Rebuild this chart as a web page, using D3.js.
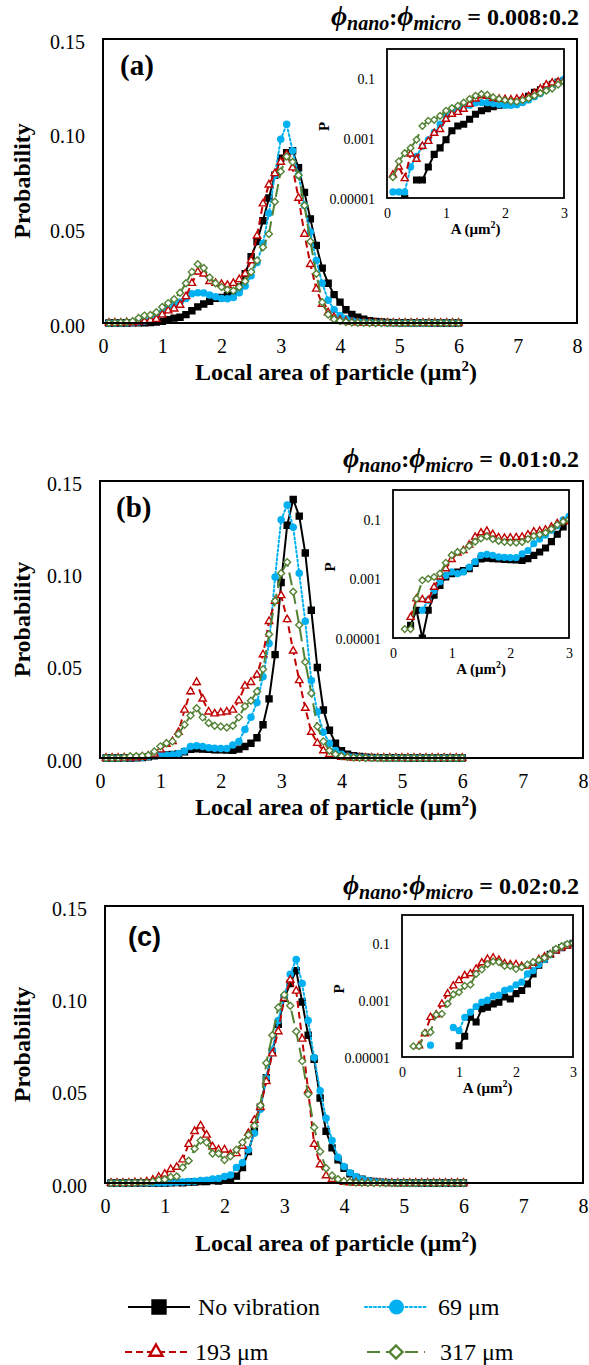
<!DOCTYPE html>
<html>
<head>
<meta charset="utf-8">
<script src="https://cdn.jsdelivr.net/npm/d3@7"></script>
<style>
  body { margin: 0; background: #fff; }
  svg { display: block; }
  svg text { font-family: "Liberation Serif", "Times New Roman", "DejaVu Serif", serif; }
  svg text.sans { font-family: "Liberation Sans", Arial, "DejaVu Sans", sans-serif; }
</style>
</head>
<body>
<svg id="fig" width="589" height="1365"></svg>
<script>
// local area bins (um^2)
var areaBins = [0.1,0.2,0.3,0.4,0.5,0.6,0.7,0.8,0.9,1.0,1.1,1.2,1.3,1.4,1.5,1.6,1.7,1.8,1.9,2.0,
  2.1,2.2,2.3,2.4,2.5,2.6,2.7,2.8,2.9,3.0,3.1,3.2,3.3,3.4,3.5,3.6,3.7,3.8,3.9,4.0,
  4.1,4.2,4.3,4.4,4.5,4.6,4.7,4.8,4.9,5.0,5.1,5.2,5.3,5.4,5.5,5.6,5.7,5.8,5.9,6.0];

// (a) 0.008:0.2
var noVibA = [0,0,0.00001,0,0.00004,0.00004,0.00011,0.00029,0.00048,0.0009,
  0.0018,0.0026,0.003,0.0044,0.0065,0.0085,0.010,0.0115,0.013,0.0135,
  0.0145,0.016,0.019,0.026,0.035,0.043,0.054,0.066,0.078,0.087,
  0.090,0.091,0.082,0.069,0.055,0.041,0.029,0.021,0.015,0.011,
  0.007,0.0045,0.003,0.002,0.0012,0.0008,0.0005,0.0003,0.0002,0.0001,
  0.0001,0.0001,0.00005,0.00005,0.00005,0,0,0,0,0];
var vib69A = [0.000016,0.000016,0.000016,0.00011,0.00025,0.00055,0.0009,0.0016,0.003,0.0055,
  0.0075,0.0095,0.011,0.013,0.0155,0.016,0.0158,0.0148,0.0138,0.013,
  0.0128,0.0135,0.016,0.0195,0.025,0.032,0.042,0.058,0.078,0.097,
  0.105,0.091,0.078,0.062,0.048,0.033,0.021,0.012,0.007,0.004,
  0.0022,0.0012,0.0007,0.0004,0.0002,0.0001,0.0001,0.00005,0.00005,0,
  0,0,0,0,0,0,0,0,0,0];
var vib193A = [0.00006,0.00011,0.000045,0.0003,0.0002,0.00055,0.0008,0.0015,0.002,0.0044,
  0.0065,0.0075,0.0095,0.014,0.021,0.027,0.026,0.022,0.021,0.0205,
  0.020,0.021,0.023,0.026,0.033,0.046,0.063,0.073,0.079,0.085,
  0.089,0.082,0.066,0.047,0.031,0.018,0.010,0.0055,0.003,0.0015,
  0.0008,0.0004,0.0002,0.0001,0.0001,0.00005,0,0,0,0,
  0,0,0,0,0,0,0,0,0,0];
var vib317A = [0.00005,0.00017,0.00032,0.00048,0.0009,0.0026,0.0039,0.0042,0.0057,0.0085,
  0.0105,0.0125,0.016,0.021,0.027,0.031,0.029,0.024,0.021,0.019,
  0.0175,0.017,0.019,0.022,0.027,0.033,0.040,0.047,0.064,0.080,
  0.088,0.085,0.078,0.062,0.043,0.026,0.011,0.0045,0.002,0.001,
  0.0005,0.0003,0.0001,0.0001,0.00005,0,0,0,0,0,
  0,0,0,0,0,0,0,0,0,0];

// (b) 0.01:0.2
var noVibB = [0,0,0.000027,0.000087,0.00001,0.000087,0.00028,0.0006,0.00115,0.0015,
  0.0017,0.0019,0.0022,0.0033,0.0047,0.005,0.0048,0.0047,0.0045,0.0044,
  0.0043,0.0042,0.0048,0.0062,0.008,0.011,0.018,0.032,0.056,0.095,
  0.126,0.140,0.131,0.111,0.080,0.049,0.026,0.015,0.008,0.004,
  0.002,0.0012,0.0008,0.0005,0.0003,0.0002,0.0001,0.0001,0.00005,0.00005,
  0,0,0,0,0,0,0,0,0,0];
var vib69B = [0,0,0,0,0.000087,0.00019,0.0004,0.0008,0.0013,0.0017,
  0.0015,0.0017,0.0025,0.0038,0.0062,0.0067,0.0062,0.0055,0.0053,0.0052,
  0.0052,0.007,0.009,0.0155,0.022,0.030,0.044,0.062,0.098,0.129,
  0.137,0.125,0.100,0.074,0.042,0.025,0.014,0.008,0.004,0.002,
  0.001,0.0006,0.0004,0.0002,0.0001,0.0001,0.00005,0,0,0,
  0,0,0,0,0,0,0,0,0,0];
var vib193B = [0,0,0.00005,0.00021,0.0002,0.00019,0.00052,0.00115,0.0022,0.0045,
  0.0075,0.009,0.014,0.026,0.036,0.041,0.032,0.025,0.024,0.0245,
  0.025,0.026,0.031,0.039,0.041,0.045,0.056,0.074,0.085,0.088,
  0.075,0.058,0.042,0.027,0.014,0.008,0.004,0.002,0.001,0.0005,
  0.0003,0.0001,0.0001,0.00005,0,0,0,0,0,0,
  0,0,0,0,0,0,0,0,0,0];
var vib317B = [0,0.00002,0.00002,0.00021,0.00089,0.001,0.00115,0.0015,0.0035,0.0063,
  0.008,0.009,0.013,0.018,0.023,0.027,0.022,0.019,0.0175,0.017,
  0.0165,0.0175,0.022,0.028,0.031,0.036,0.048,0.067,0.085,0.100,
  0.106,0.090,0.072,0.052,0.035,0.017,0.009,0.004,0.002,0.001,
  0.0005,0.0003,0.0001,0.00005,0,0,0,0,0,0,
  0,0,0,0,0,0,0,0,0,0];

// (c) 0.02:0.2
var noVibC = [0,0,0,0,0,0,0,0,0,0.000025,
  0.000054,0.00025,0.00017,0.0005,0.00057,0.00074,0.00085,0.0013,0.0011,0.0017,
  0.0022,0.0037,0.0084,0.017,0.028,0.041,0.057,0.071,0.086,0.100,
  0.108,0.115,0.098,0.080,0.067,0.046,0.028,0.019,0.0125,0.008,
  0.005,0.003,0.002,0.0012,0.0008,0.0005,0.0003,0.0002,0.0001,0.0001,
  0.00005,0.00005,0,0,0,0,0,0,0,0];
var vib69C = [0,0,0,0,0.000026,0,0,0,0.00011,0.000085,
  0.00025,0.00038,0.0006,0.00086,0.001,0.0014,0.0015,0.0022,0.0025,0.0035,
  0.0043,0.0084,0.011,0.018,0.027,0.040,0.057,0.072,0.088,0.101,
  0.113,0.121,0.108,0.088,0.068,0.050,0.035,0.023,0.014,0.009,
  0.0055,0.0035,0.002,0.0013,0.0008,0.0005,0.0003,0.0002,0.0001,0.0001,
  0.00005,0,0,0,0,0,0,0,0,0];
var vib193C = [0,0,0.000025,0.000066,0.00025,0.00031,0.00074,0.0017,0.0032,0.0049,
  0.0074,0.0086,0.0126,0.021,0.028,0.031,0.026,0.0197,0.018,0.018,
  0.0156,0.016,0.020,0.027,0.034,0.041,0.055,0.070,0.082,0.100,
  0.110,0.104,0.078,0.050,0.021,0.010,0.004,0.002,0.001,0.0005,
  0.0002,0.0001,0.00005,0,0,0,0,0,0,0,
  0,0,0,0,0,0,0,0,0,0];
var vib317C = [0,0.000024,0.000024,0.00007,0.000075,0.00031,0.00033,0.00075,0.0016,0.0019,
  0.0032,0.0035,0.0084,0.012,0.0185,0.023,0.022,0.016,0.016,0.0125,
  0.0145,0.018,0.022,0.026,0.031,0.042,0.065,0.080,0.095,0.102,
  0.096,0.082,0.066,0.048,0.030,0.017,0.008,0.004,0.002,0.001,
  0.0005,0.0002,0.0001,0.00005,0,0,0,0,0,0,
  0,0,0,0,0,0,0,0,0,0];

var seriesNames = ["No vibration", "69 \u03bcm", "193 \u03bcm", "317 \u03bcm"];
var ratios = ["0.008:0.2", "0.01:0.2", "0.02:0.2"];
var panelTags = ["(a)", "(b)", "(c)"];
var xTicks = [0,1,2,3,4,5,6,7,8];
var yTicks = [0,0.05,0.10,0.15];
var insetXTicks = [0,1,2,3];
var insetYTicks = [0.00001,0.001,0.1];

// look of each series
var looks = [
  {color: "#000000", dash: null,    width: 2, marker: "square",   size: 6,   fill: "#000000"},
  {color: "#00b0f0", dash: "2,2.5", width: 2, marker: "circle",   size: 7.5, fill: "#00b0f0"},
  {color: "#c00000", dash: "7,4",   width: 2, marker: "triangle", size: 7.5, fill: "#ffffff"},
  {color: "#548235", dash: "13,6",  width: 2, marker: "diamond",  size: 7,   fill: "#ffffff"}
];

// page layout of the three panels
var panels = [
  {data: [noVibA, vib69A, vib193A, vib317A], left: 103, right: 577, top: 39, bottom: 323,
   inset: {l: 387, r: 564, t: 49, b: 198}, titleY: 25, tagX: 120, tagY: 75, tagSans: false, tagSize: 29, xTitleY: 380},
  {data: [noVibB, vib69B, vib193B, vib317B], left: 100, right: 583, top: 481, bottom: 758,
   inset: {l: 393, r: 569, t: 490, b: 638}, titleY: 467, tagX: 116, tagY: 517, tagSans: false, tagSize: 29, xTitleY: 815},
  {data: [noVibC, vib69C, vib193C, vib317C], left: 105, right: 583, top: 906, bottom: 1183,
   inset: {l: 402, r: 573, t: 915, b: 1057}, titleY: 894, tagX: 128, tagY: 946, tagSans: true, tagSize: 27, xTitleY: 1251}
];

var svg = d3.select("#fig");

function markerPath(type, s) {
  if (type == "square") return "M" + (-s/2) + "," + (-s/2) + "h" + s + "v" + s + "h" + (-s) + "Z";
  if (type == "circle") return d3.symbol(d3.symbolCircle, Math.PI * s * s / 4)();
  if (type == "triangle") {
    var h = s * 0.866;
    return "M0," + (-h*2/3) + "L" + (s/2) + "," + (h/3) + "L" + (-s/2) + "," + (h/3) + "Z";
  }
  return "M0," + (-s/2) + "L" + (s/2) + ",0L0," + (s/2) + "L" + (-s/2) + ",0Z";
}

function drawSeries(g, look, pts, x, y, scale, skipZero) {
  var line = d3.line()
    .defined(function(d) { return !skipZero || d.v > 0; })
    .x(function(d) { return x(d.a); })
    .y(function(d) { return y(d.v); });
  g.append("path")
    .datum(pts)
    .attr("d", line)
    .attr("fill", "none")
    .attr("stroke", look.color)
    .attr("stroke-width", look.width)
    .attr("stroke-linecap", look.marker == "circle" ? "round" : "butt")
    .attr("stroke-dasharray", look.dash);
  g.selectAll(null)
    .data(pts.filter(function(d) { return !skipZero || d.v > 0; }))
    .enter().append("path")
    .attr("transform", function(d) { return "translate(" + x(d.a) + "," + y(d.v) + ")"; })
    .attr("d", markerPath(look.marker, look.size * scale))
    .attr("fill", look.fill)
    .attr("stroke", look.marker == "circle" ? "none" : look.color)
    .attr("stroke-width", 1.4);
}

panels.forEach(function(p, pi) {
  var g = svg.append("g");
  var x = d3.scaleLinear().domain([0, 8]).range([p.left, p.right]);
  var y = d3.scaleLinear().domain([0, 0.15]).range([p.bottom, p.top]);

  // y axis labels
  g.append("g")
    .attr("transform", "translate(" + p.left + ",0)")
    .call(d3.axisLeft(y).tickValues(yTicks).tickFormat(d3.format(".2f")).tickSize(0).tickPadding(18))
    .call(function(a) { a.select(".domain").remove(); })
    .attr("font-size", 20)
    .selectAll("text").attr("dy", "0.45em");

  // x axis labels
  g.append("g")
    .attr("transform", "translate(0," + p.bottom + ")")
    .call(d3.axisBottom(x).tickValues(xTicks).tickFormat(d3.format("d")).tickSize(0).tickPadding(16))
    .call(function(a) { a.select(".domain").remove(); })
    .attr("font-size", 20);

  // main curves
  looks.forEach(function(look, k) {
    var pts = p.data[k].map(function(v, i) { return {a: areaBins[i], v: v}; });
    drawSeries(g, look, pts, x, y, 1, false);
  });

  // plot frame
  g.append("rect")
    .attr("x", p.left).attr("y", p.top)
    .attr("width", p.right - p.left).attr("height", p.bottom - p.top)
    .attr("fill", "none").attr("stroke", "#000").attr("stroke-width", 2);

  // axis titles
  g.append("text")
    .attr("transform", "translate(30," + ((p.top + p.bottom) / 2) + ") rotate(-90)")
    .attr("text-anchor", "middle")
    .attr("font-weight", "bold").attr("font-size", 24)
    .text("Probability");
  var xt = g.append("text")
    .attr("x", 336).attr("y", p.xTitleY)
    .attr("text-anchor", "middle")
    .attr("font-weight", "bold").attr("font-size", 24);
  xt.append("tspan").text("Local area of particle (\u03bcm");
  xt.append("tspan").attr("font-size", 15).attr("dy", -9).text("2");
  xt.append("tspan").attr("dy", 9).text(")");

  // panel tag
  g.append("text")
    .attr("class", p.tagSans ? "sans" : null)
    .attr("x", p.tagX).attr("y", p.tagY)
    .attr("font-weight", "bold").attr("font-size", p.tagSize)
    .text(panelTags[pi]);

  // title
  var t = svg.append("text")
    .attr("x", 579).attr("y", p.titleY)
    .attr("text-anchor", "end")
    .attr("font-weight", "bold").attr("font-size", 24);
  t.append("tspan").attr("font-style", "italic").attr("font-size", 28).text("\u03d5");
  t.append("tspan").attr("font-style", "italic").attr("font-size", 20).attr("dy", 5).text("nano");
  t.append("tspan").attr("dy", -5).text(":");
  t.append("tspan").attr("font-style", "italic").attr("font-size", 28).text("\u03d5");
  t.append("tspan").attr("font-style", "italic").attr("font-size", 20).attr("dy", 5).text("micro");
  t.append("tspan").attr("dy", -5).text(" = " + ratios[pi]);

  // inset (log scale, A <= 3)
  var ins = p.inset;
  var ix = d3.scaleLinear().domain([0, 3]).range([ins.l, ins.r]);
  var iy = d3.scaleLog().domain([0.00001, 1]).range([ins.b, ins.t]);
  var ig = g.append("g");
  var clipId = "clip" + pi;
  ig.append("clipPath").attr("id", clipId)
    .append("rect").attr("x", ins.l).attr("y", ins.t).attr("width", ins.r - ins.l).attr("height", ins.b - ins.t);
  ig.append("rect")
    .attr("x", ins.l).attr("y", ins.t).attr("width", ins.r - ins.l).attr("height", ins.b - ins.t)
    .attr("fill", "#fff");
  var curves = ig.append("g").attr("clip-path", "url(#" + clipId + ")");
  looks.forEach(function(look, k) {
    var pts = p.data[k].map(function(v, i) { return {a: areaBins[i], v: v}; })
      .filter(function(d) { return d.a <= 3.0001; });
    drawSeries(curves, look, pts, ix, iy, 0.95, true);
  });
  ig.append("rect")
    .attr("x", ins.l).attr("y", ins.t).attr("width", ins.r - ins.l).attr("height", ins.b - ins.t)
    .attr("fill", "none").attr("stroke", "#000").attr("stroke-width", 1.8);

  ig.append("g")
    .attr("transform", "translate(" + ins.l + ",0)")
    .call(d3.axisLeft(iy).tickValues(insetYTicks).tickFormat(d3.format(".5~f")).tickSize(0).tickPadding(12))
    .call(function(a) { a.select(".domain").remove(); })
    .attr("font-size", 14)
    .selectAll("text").attr("dy", "0.36em");
  ig.append("g")
    .attr("transform", "translate(0," + ins.b + ")")
    .call(d3.axisBottom(ix).tickValues(insetXTicks).tickFormat(d3.format("d")).tickSize(0).tickPadding(10))
    .call(function(a) { a.select(".domain").remove(); })
    .attr("font-size", 14);

  ig.append("text")
    .attr("transform", "translate(" + (ins.l - 58) + "," + ((ins.t + ins.b) / 2 + 3) + ") rotate(-90)")
    .attr("text-anchor", "middle")
    .attr("font-weight", "bold").attr("font-size", 15)
    .text("P");
  var at = ig.append("text")
    .attr("x", (ins.l + ins.r) / 2).attr("y", ins.b + 36)
    .attr("text-anchor", "middle")
    .attr("font-weight", "bold").attr("font-size", 15);
  at.append("tspan").text("A (\u03bcm");
  at.append("tspan").attr("font-size", 10).attr("dy", -6).text("2");
  at.append("tspan").attr("dy", 6).text(")");
});

// legend
var legendSpots = [
  {x0: 128, x1: 190, tx: 198, y: 1307},
  {x0: 365, x1: 428, tx: 438, y: 1307},
  {x0: 125, x1: 187, tx: 195, y: 1352},
  {x0: 367, x1: 425, tx: 440, y: 1352}
];
var lg = svg.append("g");
looks.forEach(function(look, k) {
  var s = legendSpots[k];
  lg.append("line")
    .attr("x1", s.x0).attr("x2", s.x1).attr("y1", s.y).attr("y2", s.y)
    .attr("stroke", look.color).attr("stroke-width", look.width)
    .attr("stroke-linecap", look.marker == "circle" ? "round" : "butt")
    .attr("stroke-dasharray", look.dash);
  lg.append("path")
    .attr("transform", "translate(" + ((s.x0 + s.x1) / 2) + "," + s.y + ")")
    .attr("d", markerPath(look.marker, look.marker == "circle" ? 15 : 13))
    .attr("fill", look.marker == "square" || look.marker == "circle" ? look.color : "#fff")
    .attr("stroke", look.marker == "circle" ? "none" : look.color)
    .attr("stroke-width", 2.4);
  lg.append("text")
    .attr("x", s.tx).attr("y", s.y + 8)
    .attr("font-size", 24)
    .text(seriesNames[k]);
});
</script>
</body>
</html>
